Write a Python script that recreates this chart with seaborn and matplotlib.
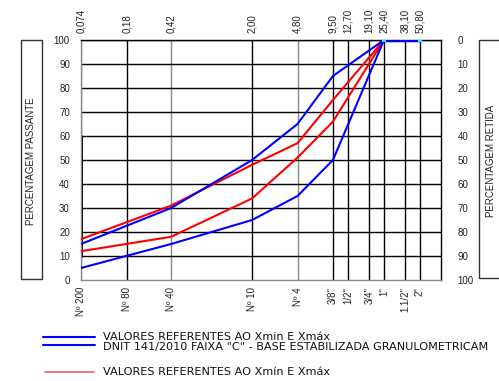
import matplotlib
matplotlib.use("Agg")
import matplotlib.pyplot as plt
import matplotlib.ticker as mticker
from matplotlib.lines import Line2D
from matplotlib.patches import Rectangle
import seaborn as sns
import pandas as pd

# ---- data ----
sieve_mm = [0.074, 0.18, 0.42, 2.00, 4.80, 9.50, 12.70, 19.10, 25.40, 38.10, 50.80]
top_labels = ["0,074", "0,18", "0,42", "2,00", "4,80", "9,50", "12,70", "19,10", "25,40", "38,10", "50,80"]
bottom_labels = ["Nº 200", "Nº 80", "Nº 40", "Nº 10", "Nº 4", "3/8\"", "1/2\"", "3/4\"", "1\"", "1.1/2\"", "2\""]

curve_sizes = [0.074, 0.42, 2.00, 4.80, 9.50, 25.40, 50.80]
blue_max = [15, 30, 50, 65, 85, 100, 100]
blue_min = [5, 15, 25, 35, 50, 100, 100]
red_max = [17, 31, 48, 57, 75, 100, 100]
red_min = [12, 18, 34, 51, 66, 100, 100]
end_sizes = [25.40, 50.80]
end_values = [100, 100]

legend_blue_1 = "VALORES REFERENTES AO Xmin E Xmáx"
legend_blue_2 = "DNIT 141/2010 FAIXA \"C\" - BASE ESTABILIZADA GRANULOMETRICAM"
legend_red = "VALORES REFERENTES AO Xmín E Xmáx"
ylabel_left = "PERCENTAGEM PASSANTE"
ylabel_right = "PERCENTAGEM RETIDA"

rows = []
for name, vals in [("red_max", red_max), ("red_min", red_min), ("blue_max", blue_max), ("blue_min", blue_min)]:
    for s, v in zip(curve_sizes, vals):
        rows.append({"size": s, "value": v, "serie": name})
df = pd.DataFrame(rows)

sns.set_style("white")
plt.rcParams["font.family"] = ["Liberation Sans", "DejaVu Sans"]

fig = plt.figure(figsize=(4.99, 3.81), dpi=100)
W, H = 499, 381
ax = fig.add_axes([81 / W, (H - 280) / H, (441 - 81) / W, 240 / H])

palette = {"red_max": "#ff0000", "red_min": "#ff0000", "blue_max": "#0000ff", "blue_min": "#0000ff"}
sns.lineplot(data=df, x="size", y="value", hue="serie", units="serie", estimator=None,
             sort=False, palette=palette, linewidth=1.5, legend=False, ax=ax, zorder=5)
ax.plot(end_sizes, end_values, color="#0000ff", lw=2.5, zorder=6)
ax.scatter(end_sizes, end_values, marker="s", s=7, color="#00ffff", zorder=7, linewidths=0)

ax.set_xscale("log")
ax.set_xlim(0.074, 76.2)
ax.set_ylim(0, 100)
ax.xaxis.set_major_locator(mticker.FixedLocator(sieve_mm))
ax.xaxis.set_minor_locator(mticker.NullLocator())
ax.set_xticklabels(bottom_labels, rotation=90, fontsize=7, color="#222222")
ax.set_yticks(range(0, 101, 10))
ax.set_yticklabels([str(v) for v in range(0, 101, 10)], fontsize=7, color="#222222")
ax.tick_params(axis="both", length=0)
ax.tick_params(axis="x", pad=5)
ax.tick_params(axis="y", pad=8)
ax.set_xlabel("")
ax.set_ylabel("")

gray_ticks = [0.074, 0.42, 4.80]
for s in sieve_mm:
    ax.axvline(s, color="#888888" if s in gray_ticks else "black", lw=1.0, zorder=1)
for v in range(10, 101, 10):
    ax.axhline(v, color="black", lw=1.0, zorder=1)
ax.axvline(0.074, ymin=0.1, ymax=0.6, color="black", lw=2.2, zorder=2)

for side in ["top", "right"]:
    ax.spines[side].set_color("black")
    ax.spines[side].set_linewidth(1.0)
for side in ["left", "bottom"]:
    ax.spines[side].set_color("#888888")
    ax.spines[side].set_linewidth(1.0)

top = ax.secondary_xaxis("top")
top.xaxis.set_major_locator(mticker.FixedLocator(sieve_mm))
top.xaxis.set_minor_locator(mticker.NullLocator())
top.set_xticklabels(top_labels, rotation=90, fontsize=7, color="#222222")
top.tick_params(length=0, pad=5)
top.spines["top"].set_visible(False)

right = ax.secondary_yaxis("right", functions=(lambda y: 100 - y, lambda y: 100 - y))
right.set_yticks(range(0, 101, 10))
right.set_yticklabels([str(v) for v in range(0, 101, 10)], fontsize=7, color="#222222")
right.tick_params(length=0, pad=12)
right.spines["right"].set_visible(False)

# side label boxes
fig.add_artist(Rectangle((21 / W, (H - 279) / H), 21 / W, 239 / H, transform=fig.transFigure,
                         fill=False, edgecolor="#333333", lw=1.0))
fig.text(31.5 / W, (H - 161) / H, ylabel_left, rotation=90, ha="center", va="center",
         fontsize=7, color="#222222")
fig.add_artist(Rectangle((479 / W, (H - 278) / H), 40 / W, 238 / H, transform=fig.transFigure,
                         fill=False, edgecolor="#333333", lw=1.0))
fig.text(491 / W, (H - 161) / H, ylabel_right, rotation=90, ha="center", va="center",
         fontsize=7, color="#222222")

# legend
fig.add_artist(Line2D([43 / W, 95 / W], [(H - 337) / H] * 2, color="#0000ff", lw=1.5,
                      transform=fig.transFigure))
fig.add_artist(Line2D([43 / W, 95 / W], [(H - 345) / H] * 2, color="#0000ff", lw=1.5,
                      transform=fig.transFigure))
fig.add_artist(Line2D([45 / W, 94 / W], [(H - 372) / H] * 2, color="#f06060", lw=1.2,
                      transform=fig.transFigure))
leg_font = dict(family=["DejaVu Sans"], fontsize=8.1, color="#111111", ha="left", va="center")
fig.text(103 / W, (H - 336.5) / H, legend_blue_1, **leg_font)
fig.text(103 / W, (H - 347) / H, legend_blue_2, **leg_font)
fig.text(103 / W, (H - 372) / H, legend_red, **leg_font)

fig.savefig("out.png", dpi=100)
